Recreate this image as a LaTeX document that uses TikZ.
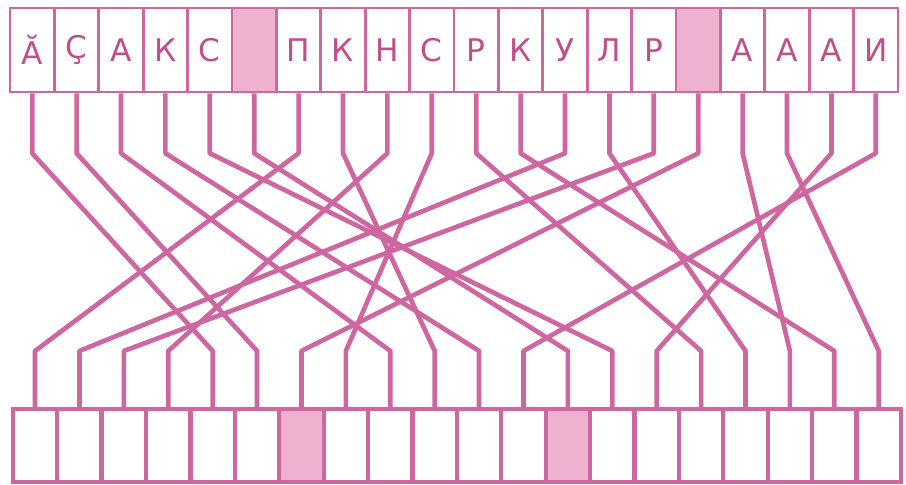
\documentclass[tikz,border=0pt]{standalone}
\usepackage{fontspec}
\setmainfont{DejaVu Sans}
\usepackage{tikz}
\usepackage{xcolor}
\definecolor{pen}{RGB}{206,102,160}
\definecolor{penink}{RGB}{192,78,138}
\definecolor{penwash}{RGB}{238,178,208}
\begin{document}
\begin{tikzpicture}[
topbox/.style={rectangle,draw=pen,line width=1.8pt,fill=white,inner sep=0,minimum width=1cm,minimum height=1.89cm,text=penink,font=\fontsize{20}{20}\selectfont},
topgap/.style={topbox,fill=penwash},
lowbox/.style={rectangle,draw=pen,line width=2.8pt,fill=white,inner sep=0,minimum width=1cm,minimum height=1.64cm},
lowgap/.style={lowbox,fill=penwash},
wire/.style={draw=pen,line width=3pt,line join=round}]
\useasboundingbox (0,0) rectangle (20.405,10.923);

% letters on top
\foreach \l [count=\i from 0] in {Ӑ,Ҫ,А,К,С}
    \node [topbox] (t\i) at (0.725+\i,9.797) {\l};
\node [topgap] (t5) at (5.725,9.797) {};
\foreach \l [count=\i from 6] in {П,К,Н,С,Р,К,У,Л,Р}
    \node [topbox] (t\i) at (0.725+\i,9.797) {\l};
\node [topgap] (t15) at (15.725,9.797) {};
\foreach \l [count=\i from 16] in {А,А,А,И}
    \node [topbox] (t\i) at (0.725+\i,9.797) {\l};

% empty boxes below
\foreach \xx in {0,...,5}
    \node [lowbox] (b\xx) at (0.79+\xx,0.89) {};
\node [lowgap] (b6) at (6.79,0.89) {};
\foreach \xx in {7,...,11}
    \node [lowbox] (b\xx) at (0.79+\xx,0.89) {};
\node [lowgap] (b12) at (12.79,0.89) {};
\foreach \xx in {13,...,19}
    \node [lowbox] (b\xx) at (0.79+\xx,0.89) {};

% wires
\foreach \i/\j in {0/4,1/5,2/8,3/10,4/13,5/12,6/0,7/9,8/3,9/7,10/15,11/18,12/1,13/16,14/2,15/6,16/17,17/19,18/14,19/11}
    \draw [wire] (t\i.south) -- ([yshift=-1.35cm]t\i.south) -- ([yshift=1.26cm]b\j.north) -- (b\j.north);
\end{tikzpicture}
\end{document}
